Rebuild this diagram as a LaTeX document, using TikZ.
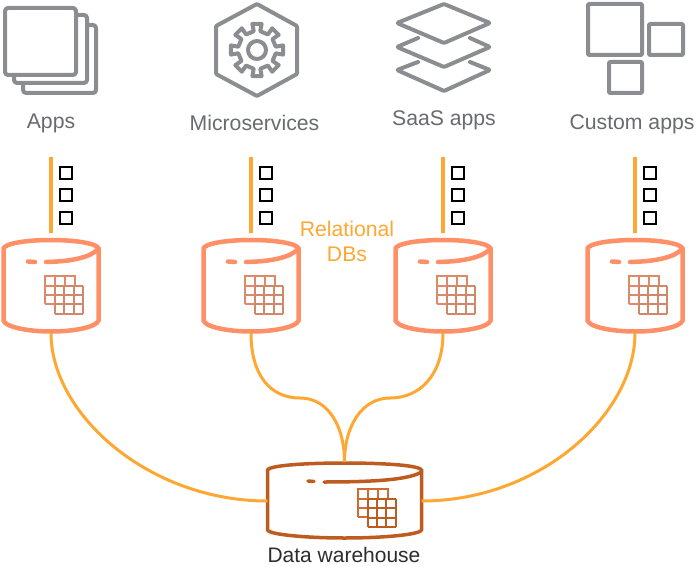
\documentclass[tikz,border=0pt]{standalone}
\usepackage{xcolor}
\usepackage{fontspec}
\setmainfont{Liberation Sans}
\usepackage{tikz}
\usetikzlibrary{positioning,calc}
\definecolor{icongray}{RGB}{140, 141, 145}
\definecolor{labelgray}{RGB}{105, 106, 110}
\definecolor{linkorange}{RGB}{255, 167, 51}
\definecolor{dbsalmon}{RGB}{255, 143, 102}
\definecolor{gridbrown}{RGB}{210, 135, 105}
\definecolor{dwbrown}{RGB}{190, 92, 32}
\definecolor{textdark}{RGB}{45, 45, 45}
\tikzset{
    iconline/.style={draw=icongray, line width=4pt, line join=round, rounded corners=3pt},
    applabel/.style={labelgray, inner sep=0pt, font=\fontsize{21.2}{25}\selectfont},
    stemline/.style={draw=linkorange, line width=3.5pt},
    linkline/.style={draw=linkorange, line width=3pt},
    recordbox/.style={draw=black, line width=2pt, minimum size=12pt, inner sep=0pt, outer sep=0pt},
    dbnode/.style={minimum width=96pt, minimum height=95pt, inner sep=0pt, outer sep=0pt},
    dwnode/.style={minimum width=154pt, minimum height=78pt, inner sep=0pt, outer sep=0pt},
    pics/tablegrid/.style={code={
        % back sheet, then the front sheet with its 3x3 cells
        \draw[line width=2pt, draw=#1!70!dbsalmon] (-10,18) -- (-10,-10) -- (20,-10) -- (20,0);
        \draw[line width=2pt, draw=#1!70!dbsalmon] (-10,18) -- (0,18);
        \foreach \k in {0,10} { \draw[line width=2pt, draw=#1!70!dbsalmon] (\k,-10) -- (\k,0); }
        \foreach \k in {0,9} { \draw[line width=2pt, draw=#1!70!dbsalmon] (-10,\k) -- (0,\k); }
        \foreach \k in {0,9.33,18.67,28} {
            \draw[line width=2pt, draw=#1] (\k,0) -- (\k,28);
            \draw[line width=2pt, draw=#1] (0,\k) -- (28,\k);
        }
    }},
    pics/dbicon/.style={code={
        \draw[line width=4.5pt, draw=dbsalmon] (-47.5,-37) .. controls (-46,-42) and (-25,-45.5) .. (0,-45.5)
            .. controls (25,-45.5) and (46,-42) .. (47.5,-37) -- (47.5,35)
            .. controls (46,41) and (25,46) .. (0,46) .. controls (-25,46) and (-46,41) .. (-47.5,35) -- cycle;
        \draw[line width=4.5pt, draw=dbsalmon, line cap=round] (47.5,-37) .. controls (40,-28) and (20,-24) .. (-5,-23.5);
        \draw[line width=4.5pt, draw=dbsalmon, line cap=round] (-23,-24) -- (-16,-23.5);
        \pic at (4,0) {tablegrid=gridbrown};
    }}
}
\begin{document}
\begin{tikzpicture}[x=1pt, y=-1pt]
    \useasboundingbox (0,0) rectangle (696,567);

    % Source icons along the top
    \draw[iconline] (5,8) rectangle (76,75);
    \draw[iconline] (78,15) -- (87,15) -- (87,83) -- (14,83) -- (14,77);
    \draw[iconline] (89,25) -- (96,25) -- (96,93) -- (23,93) -- (23,85);

    \draw[iconline, rounded corners=1pt] (257,4) -- (297,26) -- (297,74) -- (257,96) -- (216,74) -- (216,26) -- cycle;
    \draw[draw=icongray, line width=4pt, line join=round, shift={(257,50)}]
        (-90-10:19) \foreach \a in {-90,-45,...,225} { -- (\a-10:19) -- (\a-10:26.5) -- (\a+10:26.5) -- (\a+10:19) } -- cycle;
    \draw[draw=icongray, line width=4pt] (257,50) circle (9);

    \draw[iconline, rounded corners=1pt] (444,4) -- (490,23) -- (444,43) -- (397,23) -- cycle;
    \draw[iconline, rounded corners=1pt, line cap=round] (418,38) -- (397,47) -- (444,67) -- (490,47) -- (470,38);
    \draw[iconline, rounded corners=1pt, line cap=round] (418,62) -- (397,70) -- (444,91) -- (490,70) -- (470,62);

    \draw[iconline, rounded corners=1pt] (588,4) rectangle (642,55);
    \draw[iconline, rounded corners=1pt] (649,24) rectangle (683,55);
    \draw[iconline, rounded corners=1pt] (609,62) rectangle (642,93);

    % Labels under the icons
    \node[applabel] (appslabel) at (51,123) {Apps};
    \node[applabel] (microlabel) at (254.5,123) {Microservices};
    \node[applabel] (saaslabel) at (444,120) {SaaS apps};
    \node[applabel] (customlabel) at (632,124) {Custom apps};

    % Relational databases with their feeds
    \foreach \n/\x in {1/51, 2/251, 3/443, 4/635} {
        \node[dbnode] (db\n) at (\x,285.5) {};
        \pic at (db\n) {dbicon};
        \coordinate (stem\n) at (\x,157);
        \draw[stemline] (stem\n) -- ([yshift=5pt]db\n.north);
        \node[recordbox] (rec\n a) at (\x+15,172.5) {};
        \node[recordbox] (rec\n b) at (\x+15,195) {};
        \node[recordbox] (rec\n c) at (\x+15,218) {};
    }
    \node[linkorange, font=\fontsize{21.2}{25}\selectfont, align=center] (dblabel) at (347,241) {Relational\\DBs};

    % Data warehouse
    \node[dwnode] (dw) at (344.5,501) {};
    \draw[line width=3.5pt, draw=dwbrown] (267.5,470) .. controls (270,465) and (310,463) .. (344.5,463)
        .. controls (380,463) and (419,465) .. (421.5,470) -- (421.5,530)
        .. controls (419,535) and (380,538) .. (344.5,538) .. controls (310,538) and (270,535) .. (267.5,530) -- cycle;
    \draw[line width=3.5pt, draw=dwbrown, line cap=round] (421.5,472) .. controls (410,479) and (380,482) .. (324,482);
    \draw[line width=3.5pt, draw=dwbrown, line cap=round] (308,481) -- (314,481.5);
    \pic at (367.5,499) {tablegrid=dwbrown};
    \node[textdark, inner sep=0pt, font=\fontsize{21}{25}\selectfont] (dwlabel) at (344,555) {Data warehouse};

    % Links into the warehouse
    \draw[linkline] (db1.south) .. controls +(0,81) and +(-119,0) .. (dw.west);
    \draw[linkline] (db4.south) .. controls +(0,81) and +(119,0) .. (dw.east);
    \coordinate (bendl) at (300,398);
    \coordinate (bendr) at (390,398);
    \draw[linkline] (db2.south) .. controls +(0,42) and +(-30,0) .. (bendl) .. controls +(28,0) and +(0,-36) .. (dw.north);
    \draw[linkline] (db3.south) .. controls +(0,42) and +(30,0) .. (bendr) .. controls +(-28,0) and +(0,-36) .. (dw.north);
\end{tikzpicture}
\end{document}
